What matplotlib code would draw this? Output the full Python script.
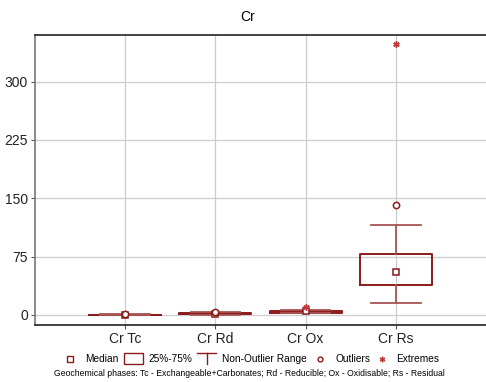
import matplotlib
matplotlib.use("Agg")
import matplotlib.pyplot as plt
from matplotlib.lines import Line2D
from matplotlib.patches import Rectangle

categories = ["Cr Tc", "Cr Rd", "Cr Ox", "Cr Rs"]
q1 = [0.1, 0.8, 3.0, 38.2]
median = [0.3, 1.5, 4.5, 55.7]
q3 = [0.6, 2.5, 5.5, 78.1]
whis_lo = [0.0, 0.3, 2.0, 15.4]
whis_hi = [0.9, 3.2, 7.0, 116.2]
outliers = [[0.8], [3.6], [], [141.1]]
extremes = [[], [], [10.0], [348.0]]
yticks = [0, 75, 150, 225, 300]

plt.rcParams['font.family'] = ['Liberation Sans', 'DejaVu Sans']
DARK = '#8b1a1a'
WHIS = '#a85555'
GRID = '#cccccc'

fig = plt.figure(figsize=(4.86, 3.82), dpi=100)
ax = fig.add_axes([35/486, 1-325/382, 1-35/486, (325-35)/382])

positions = list(range(1, len(categories)+1))
stats = []
for i in range(len(categories)):
    stats.append(dict(q1=q1[i], med=median[i], q3=q3[i], whislo=whis_lo[i],
                      whishi=whis_hi[i], fliers=[], label=categories[i]))
ax.bxp(stats, positions=positions, widths=0.8, showfliers=False,
       boxprops=dict(color=DARK, linewidth=1.4),
       whiskerprops=dict(color=WHIS, linewidth=1.3),
       capprops=dict(color=WHIS, linewidth=1.3),
       medianprops=dict(linestyle='none'),
       capwidths=0.55, zorder=3)
ax.plot(positions, median, linestyle='none', marker='s', markersize=4.5,
        markerfacecolor='white', markeredgecolor=DARK, markeredgewidth=1.1, zorder=4)
for p, vals in zip(positions, outliers):
    if vals:
        ax.plot([p]*len(vals), vals, linestyle='none', marker='o', markersize=4.5,
                markerfacecolor='white', markeredgecolor=DARK, markeredgewidth=1.1, zorder=4)
for p, vals in zip(positions, extremes):
    if vals:
        ax.plot([p]*len(vals), vals, linestyle='none', marker=(6, 2, 0), markersize=4.5,
                color='#c0393b', markeredgewidth=1.1, zorder=4)

ax.set_xlim(0, 5)
ax.set_ylim(-12.9, 360)
ax.set_xticks(positions)
ax.set_xticklabels(categories, fontsize=10)
ax.set_yticks(yticks)
ax.set_yticklabels([str(t) for t in yticks], fontsize=10)
ax.grid(True, color=GRID, linewidth=0.9)
ax.set_axisbelow(True)
ax.tick_params(axis='both', length=3, color='#555555', pad=2, labelcolor='#222222')
ax.spines['right'].set_visible(False)
ax.spines['top'].set_color('#222222')
ax.spines['bottom'].set_color('#222222')
ax.spines['left'].set_color('#777777')
for s in ['top', 'bottom', 'left']:
    ax.spines[s].set_linewidth(1.2)

fig.text(248/486, 1-17/382, "Cr", ha='center', va='center', fontsize=10)

# legend (manual)
ly = 1 - 359/382
def fx(px):
    return px/486
fig.add_artist(Line2D([fx(70)], [ly], marker='s', markersize=4, markerfacecolor='white',
                      markeredgecolor=DARK, markeredgewidth=1.0, linestyle='none'))
fig.text(fx(85), ly, "Median", fontsize=7.3, va='center', ha='left')
fig.add_artist(Rectangle((fx(124), 1-364/382), fx(19), 11/382, facecolor='white',
                         edgecolor=DARK, linewidth=1.0, transform=fig.transFigure))
fig.text(fx(148), ly, "25%-75%", fontsize=7.3, va='center', ha='left')
fig.add_artist(Line2D([fx(197), fx(216)], [1-353/382, 1-353/382], color=DARK, linewidth=1.0,
                      transform=fig.transFigure))
fig.add_artist(Line2D([fx(206.5), fx(206.5)], [1-353/382, 1-364/382], color=DARK, linewidth=1.0,
                      transform=fig.transFigure))
fig.text(fx(222), ly, "Non-Outlier Range", fontsize=7.3, va='center', ha='left')
fig.add_artist(Line2D([fx(320)], [ly], marker='o', markersize=3.5, markerfacecolor='white',
                      markeredgecolor=DARK, markeredgewidth=1.0, linestyle='none'))
fig.text(fx(335), ly, "Outliers", fontsize=7.3, va='center', ha='left')
fig.add_artist(Line2D([fx(382)], [ly], marker=(6, 2, 0), markersize=4, color='#c0393b',
                      markeredgewidth=1.0, linestyle='none'))
fig.text(fx(396), ly, "Extremes", fontsize=7.3, va='center', ha='left')
fig.text(fx(249), 1-373/382,
         "Geochemical phases: Tc - Exchangeable+Carbonates; Rd - Reducible; Ox - Oxidisable; Rs - Residual",
         fontsize=6.2, va='center', ha='center')

fig.savefig("out.png", dpi=100)
